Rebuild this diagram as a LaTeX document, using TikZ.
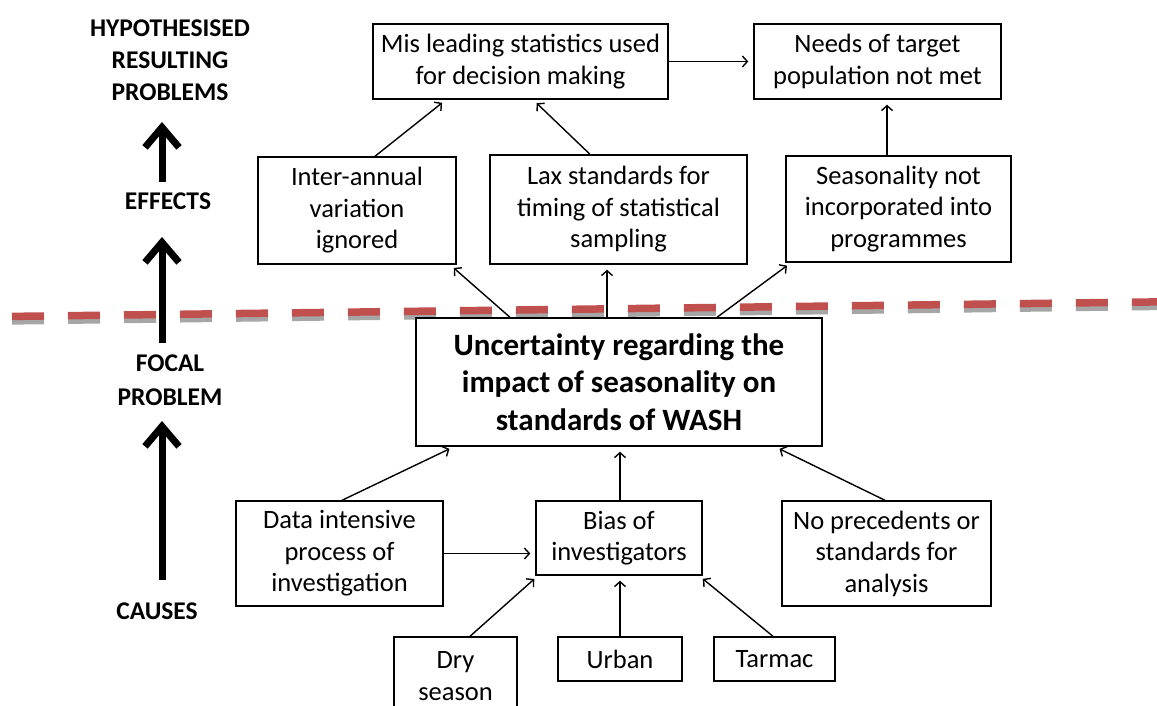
\documentclass[tikz,border=0pt]{standalone}
\usepackage{fontspec}
\setmainfont{Carlito}
\usetikzlibrary{arrows.meta}

\begin{document}
\begin{tikzpicture}[x=1pt,y=-1pt,
  box/.style={draw=black, line width=1.4pt, fill=white, align=center, inner sep=0pt,
              font=\fontsize{26.5}{31.5}\selectfont},
  focalbox/.style={box, font=\fontsize{31}{37.5}\selectfont\bfseries},
  stage/.style={align=center, inner sep=0pt, font=\fontsize{25.5}{32}\selectfont\bfseries},
  link/.style={line width=1.4pt, -{Straight Barb[length=5pt,width=11pt]}, shorten >=5pt},
  flow/.style={line width=7pt, -{Straight Barb[length=20pt,width=34pt]}},
  divider/.style={line width=7.5pt, dash pattern=on 32pt off 24pt},
]
\useasboundingbox (0,0) rectangle (1157,706);
\fill[white] (0,0) rectangle (1157,706);

% boundary between effects and causes
\draw[divider, draw={rgb,255:red,166;green,166;blue,166}] (12,320.9) -- (1157,306.4);
\draw[divider, draw={rgb,255:red,192;green,80;blue,77}] (12,316.4) -- (1157,301.9);

% stage labels on the left
\node[stage] (hyp) at (170,60) {HYPOTHESISED\\RESULTING\\PROBLEMS};
\node[stage] (eff) at (168,201) {EFFECTS};
\node[stage, font=\fontsize{25.5}{34}\selectfont\bfseries] (foc) at (170,380) {FOCAL\\PROBLEM};
\node[stage] (cau) at (157,611) {CAUSES};

\coordinate (up1a) at (162,182); \coordinate (up1b) at (162,122);
\coordinate (up2a) at (162,343); \coordinate (up2b) at (162,237);
\coordinate (up3a) at (162,580); \coordinate (up3b) at (162,421);
\draw[flow] (up1a) -- (up1b);
\draw[flow] (up2a) -- (up2b);
\draw[flow] (up3a) -- (up3b);

% problem tree boxes
\node[box, minimum width=295pt, minimum height=75pt] (mis) at (520.5,61.5)
  {Mis leading statistics used\\for decision making};
\node[box, minimum width=247pt, minimum height=75pt] (needs) at (877.5,61.5)
  {Needs of target\\population not met};
\node[box, minimum width=198pt, minimum height=107pt] (inter) at (357,210.5)
  {Inter-annual\\variation\\ignored};
\node[box, minimum width=257pt, minimum height=109pt] (lax) at (618.5,209.5)
  {Lax standards for\\timing of statistical\\sampling};
\node[box, minimum width=225pt, minimum height=106pt] (seas) at (898.5,209)
  {Seasonality not\\incorporated into\\programmes};
\node[focalbox, minimum width=406pt, minimum height=128pt] (focal) at (619,382)
  {Uncertainty regarding the\\impact of seasonality on\\standards of WASH};
\node[box, minimum width=207pt, minimum height=105pt] (data) at (339.5,553.5)
  {Data intensive\\process of\\investigation};
\node[box, minimum width=166pt, minimum height=74pt] (bias) at (619,538)
  {Bias of\\investigators};
\node[box, minimum width=209pt, minimum height=105pt] (noprec) at (886.5,553.5)
  {No precedents or\\standards for\\analysis};
\node[box, minimum width=123pt, minimum height=78pt] (dry) at (455.5,676)
  {Dry\\season};
\node[box, minimum width=124pt, minimum height=44pt] (urban) at (620,659)
  {Urban};
\node[box, minimum width=121pt, minimum height=44pt] (tarmac) at (774.5,659)
  {Tarmac};

% effects
\draw[link] ([xshift=18pt]inter.north) -- ([xshift=-74.5pt]mis.south);
\draw[link] ([xshift=-28.5pt]lax.north) -- ([xshift=12.5pt]mis.south);
\draw[link] ([xshift=-11.5pt]seas.north) -- ([xshift=9.5pt]needs.south);
\draw[link] (mis.east) -- (needs.west);
\draw[link] ([xshift=-109pt]focal.north) -- ([xshift=93pt]inter.south);
\draw[link] ([xshift=-12pt]focal.north) -- ([xshift=-11.5pt]lax.south);
\draw[link] ([xshift=98pt]focal.north) -- ([xshift=-107.5pt]seas.south);

% causes
\draw[link] ([xshift=2.5pt]data.north) -- ([xshift=-165pt]focal.south);
\draw[link] ([xshift=1pt]bias.north) -- ([xshift=1pt]focal.south);
\draw[link] ([xshift=-1.5pt]noprec.north) -- ([xshift=156pt]focal.south);
\draw[link] (data.east) -- (data.east -| bias.west);
\draw[link] ([xshift=14.5pt]dry.north) -- ([xshift=-81pt]bias.south);
\draw[link] (urban.north) -- (urban.north |- bias.south);
\draw[link] ([xshift=-1.5pt]tarmac.north) -- ([xshift=80pt]bias.south);
\end{tikzpicture}
\end{document}
